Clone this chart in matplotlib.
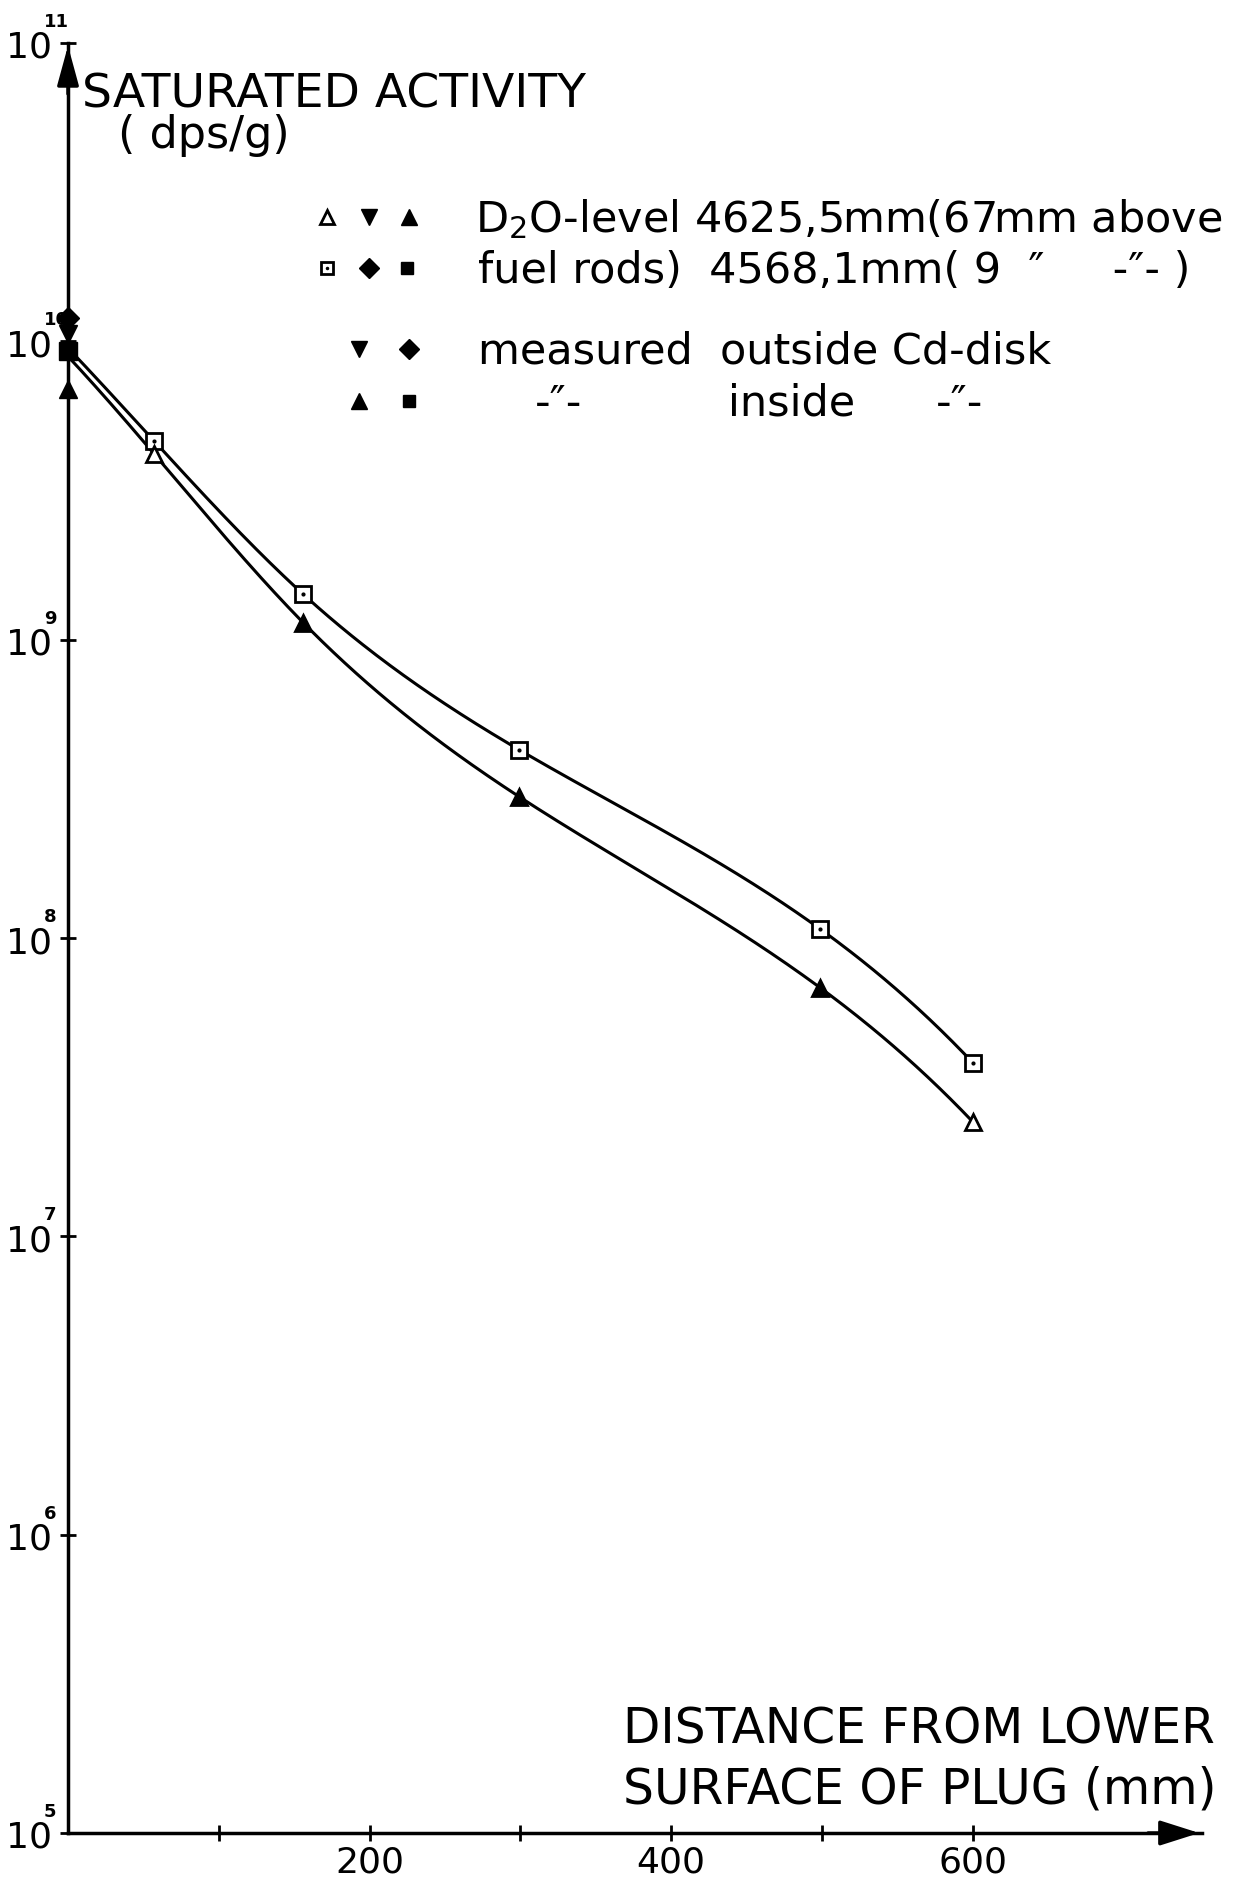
import numpy as np
import matplotlib.pyplot as plt
from matplotlib.transforms import offset_copy

W, H = 1236, 1887
DPI = 100

# distance from lower surface of plug (mm)
dist = [57, 156, 299, 499, 600]
# saturated activity (dps/g)
act_upper = [4.64e9, 1.42e9, 4.28e8, 1.07e8, 3.82e7]   # squares
act_lower = [4.2e9, 1.14e9, 2.98e8, 6.8e7, 2.42e7]     # triangles
lower_filled = [False, True, True, True, False]
# value where each curve leaves the y axis
start_upper = 9.5e9
start_lower = 8.9e9

# Cd-disk measurements sitting on the axis (x = 0)
axis_values = [1.2e10, 1.06e10, 9.3e9, 6.9e9]
axis_markers = ["D", "v", "s", "^"]

x_ticks = [100, 200, 300, 400, 500, 600]
x_ticklabels = ["", "200", "", "400", "", "600"]
y_exponents = [5, 6, 7, 8, 9, 10, 11]


def spline(xs, ys, n=400):
    # not-a-knot cubic spline through the points, only used to draw a smooth curve
    xs = np.asarray(xs, float)
    ys = np.asarray(ys, float)
    k = len(xs)
    h = np.diff(xs)
    d = np.diff(ys) / h
    A = np.zeros((k, k))
    b = np.zeros(k)
    A[0, 0], A[0, 1], A[0, 2] = h[1], -(h[0] + h[1]), h[0]
    A[-1, -3], A[-1, -2], A[-1, -1] = h[-1], -(h[-2] + h[-1]), h[-2]
    for i in range(1, k - 1):
        A[i, i - 1] = h[i - 1]
        A[i, i] = 2 * (h[i - 1] + h[i])
        A[i, i + 1] = h[i]
        b[i] = 6 * (d[i] - d[i - 1])
    M = np.linalg.solve(A, b)
    xx = np.linspace(xs[0], xs[-1], n)
    i = np.clip(np.searchsorted(xs, xx) - 1, 0, k - 2)
    a = xs[i + 1] - xx
    c = xx - xs[i]
    yy = (M[i] * a**3 / (6 * h[i]) + M[i + 1] * c**3 / (6 * h[i])
          + (ys[i] / h[i] - M[i] * h[i] / 6) * a + (ys[i + 1] / h[i] - M[i + 1] * h[i] / 6) * c)
    return xx, yy


plt.rcParams["font.family"] = "DejaVu Sans"

fig = plt.figure(figsize=(W / DPI, H / DPI), dpi=DPI)
ax = fig.add_axes([68 / W, (H - 1833) / H, 1134 / W, 1790 / H])
ax.set_yscale("log")
ax.set_xlim(0, 752)
ax.set_ylim(1e5, 1e11)

# smooth curves, drawn in log space
for start, vals in [(start_upper, act_upper), (start_lower, act_lower)]:
    xx, yy = spline([0] + dist, np.log10([start] + vals))
    ax.plot(xx, 10**yy, color="black", lw=2.2, solid_capstyle="round")

# squares with a dot in the middle
ax.plot(dist, act_upper, "s", ms=11, mfc="white", mec="black", mew=2, clip_on=False)
ax.plot(dist, act_upper, ".", ms=4, color="black")

# triangles, open at both ends, filled in between
for x, y, f in zip(dist, act_lower, lower_filled):
    ax.plot(x, y, "^", ms=12, mfc="black" if f else "white", mec="black", mew=2)

for y, mk in zip(axis_values, axis_markers):
    ax.plot(0, y, mk, ms=13 if mk != "D" else 11, color="black", clip_on=False, zorder=5)

# axes look: only left and bottom lines with arrow heads
for s in ["top", "right"]:
    ax.spines[s].set_visible(False)
for s in ["left", "bottom"]:
    ax.spines[s].set_linewidth(2.5)
ax.annotate("", xy=(1.0, 0), xytext=(0.95, 0), xycoords="axes fraction",
            arrowprops=dict(arrowstyle="-|>,head_length=1.1,head_width=0.35",
                            color="black", lw=2.5, mutation_scale=22))
ax.annotate("", xy=(0, 1.0), xytext=(0, 0.97), xycoords="axes fraction",
            arrowprops=dict(arrowstyle="-|>,head_length=1.1,head_width=0.3",
                            color="black", lw=2.5, mutation_scale=22))

ax.set_xticks(x_ticks)
ax.set_xticklabels(x_ticklabels)
ax.tick_params(axis="x", direction="inout", length=12, width=2, labelsize=26, pad=3)
ax.set_yticks([10.0**e for e in y_exponents])
ax.set_yticklabels([])
ax.minorticks_off()
ax.tick_params(axis="y", direction="inout", length=12, width=2)

# decade labels drawn as "10" plus a small exponent
base_tr = offset_copy(ax.get_yaxis_transform(), fig=fig, x=-16, y=-5, units="dots")
exp_tr = offset_copy(ax.get_yaxis_transform(), fig=fig, x=-24, y=12, units="dots")
for e in y_exponents:
    ax.text(0, 10.0**e, "10", transform=base_tr, ha="right", va="center", fontsize=26)
    ax.text(0, 10.0**e, str(e), transform=exp_tr, ha="left", va="bottom", fontsize=13,
            fontweight="bold")

# overlay in pixel units for the free text and the marker key
ov = fig.add_axes([0, 0, 1, 1], facecolor="none")
ov.set_xlim(0, W)
ov.set_ylim(H, 0)
ov.axis("off")

ov.text(82, 108, "SATURATED ACTIVITY", fontsize=34, va="baseline")
ov.text(118, 148, "( dps/g)", fontsize=32, va="baseline")

ov.text(623, 1744, "DISTANCE FROM LOWER", fontsize=35, va="baseline")
ov.text(623, 1804, "SURFACE OF PLUG (mm)", fontsize=35, va="baseline")

# marker key
ov.plot(327, 217, "^", ms=10, mfc="white", mec="black", mew=2)
ov.plot(369, 217, "v", ms=11, color="black")
ov.plot(409, 217, "^", ms=11, color="black")
ov.plot(327, 268, "s", ms=9, mfc="white", mec="black", mew=2)
ov.plot(327, 268, ".", ms=3, color="black")
ov.plot(369, 268, "D", ms=10, color="black")
ov.plot(407, 268, "s", ms=9, color="black")
ov.plot(359, 349, "v", ms=11, color="black")
ov.plot(409, 349, "D", ms=10, color="black")
ov.plot(359, 401, "^", ms=11, color="black")
ov.plot(409, 401, "s", ms=9, color="black")

ov.text(475, 232, r"D$_2$O-level 4625,5mm(67mm above", fontsize=31, va="baseline")
ov.text(478, 283, "fuel rods)  4568,1mm( 9  \u2033     -\u2033- )", fontsize=31, va="baseline")
ov.text(478, 364, "measured  outside Cd-disk", fontsize=31, va="baseline")
ov.text(535, 416, "-\u2033-", fontsize=31, va="baseline")
ov.text(728, 416, "inside", fontsize=31, va="baseline")
ov.text(936, 416, "-\u2033-", fontsize=31, va="baseline")

fig.savefig("out.png", dpi=DPI)
